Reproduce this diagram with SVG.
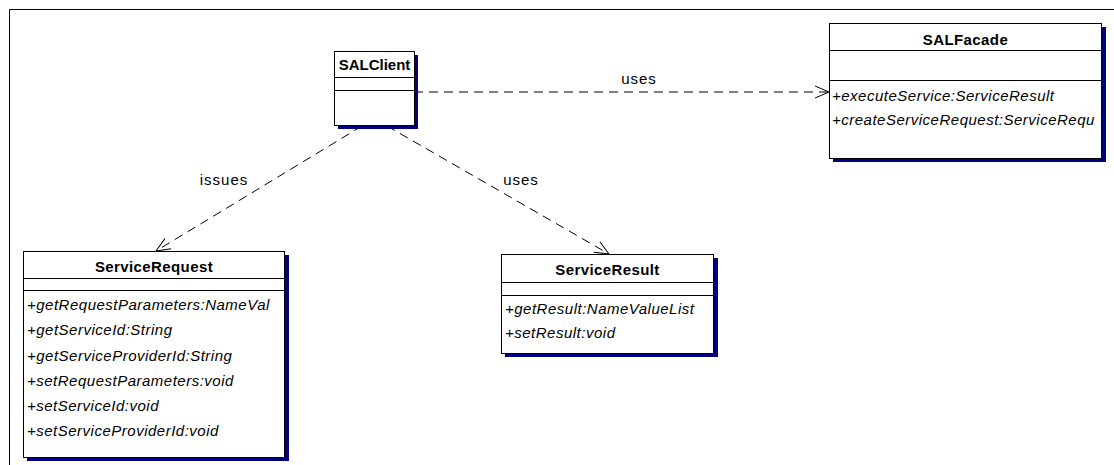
<svg xmlns="http://www.w3.org/2000/svg" width="1114" height="465" viewBox="0 0 1114 465">
<style>
.box{fill:#fff;stroke:#000;stroke-width:1}
.sh{fill:#000080}
.div{stroke:#000;stroke-width:1}
.title{font-family:"Liberation Sans",Arial,sans-serif;font-size:15px;font-weight:bold;text-anchor:middle;letter-spacing:0.4px}
.m{font-family:"Liberation Sans",Arial,sans-serif;font-size:15px;font-style:italic;letter-spacing:0.5px}
.lbl{font-family:"Liberation Sans",Arial,sans-serif;font-size:15px;text-anchor:middle;letter-spacing:1px}
.dep{fill:none;stroke:#000;stroke-width:1;stroke-dasharray:9,6}
.ah{fill:none;stroke:#000;stroke-width:1}
</style>
<defs>
<marker id="open" markerWidth="16" markerHeight="14" refX="15" refY="7" orient="auto" markerUnits="userSpaceOnUse">
<path d="M1,1 L15,7 L1,13" class="ah"/>
</marker>
</defs>
<rect width="1114" height="465" fill="#fff"/>
<path d="M9.5,465 V9.5 H1114" fill="none" stroke="#000" stroke-width="1"/>

<g id="connectors">
<line class="dep" x1="414" y1="92" x2="829" y2="92" marker-end="url(#open)"/>
<text class="lbl" x="639" y="84">uses</text>
<line class="dep" x1="362" y1="126" x2="156" y2="251" marker-end="url(#open)"/>
<text class="lbl" x="224" y="185">issues</text>
<line class="dep" x1="387" y1="126" x2="609" y2="254" marker-end="url(#open)"/>
<text class="lbl" x="521" y="185">uses</text>
</g>

<g id="SALClient">
<rect class="sh" x="338" y="55" width="80" height="74"/>
<rect class="box" x="334.5" y="51.5" width="80" height="74"/>
<text class="title" x="374.5" y="70" style="letter-spacing:0">SALClient</text>
<line class="div" x1="334.5" y1="77.5" x2="414.5" y2="77.5"/>
<line class="div" x1="334.5" y1="90.5" x2="414.5" y2="90.5"/>
</g>

<g id="SALFacade">
<rect class="sh" x="833" y="27" width="273" height="135"/>
<rect class="box" x="829.5" y="23.5" width="272" height="135"/>
<text class="title" x="965.5" y="45">SALFacade</text>
<line class="div" x1="829.5" y1="50.5" x2="1101.5" y2="50.5"/>
<line class="div" x1="829.5" y1="80.5" x2="1101.5" y2="80.5"/>
<text class="m" x="832" y="101">+executeService:ServiceResult</text>
<text class="m" x="832" y="125">+createServiceRequest:ServiceRequ</text>
</g>

<g id="ServiceRequest">
<rect class="sh" x="27" y="255" width="262" height="206"/>
<rect class="box" x="23.5" y="251.5" width="261" height="206"/>
<text class="title" x="154" y="272">ServiceRequest</text>
<line class="div" x1="23.5" y1="278.5" x2="284.5" y2="278.5"/>
<line class="div" x1="23.5" y1="290.5" x2="284.5" y2="290.5"/>
<text class="m" x="27" y="310">+getRequestParameters:NameVal</text>
<text class="m" x="27" y="335">+getServiceId:String</text>
<text class="m" x="27" y="361">+getServiceProviderId:String</text>
<text class="m" x="27" y="386">+setRequestParameters:void</text>
<text class="m" x="27" y="411">+setServiceId:void</text>
<text class="m" x="27" y="436">+setServiceProviderId:void</text>
</g>

<g id="ServiceResult">
<rect class="sh" x="505" y="258" width="213" height="99"/>
<rect class="box" x="501.5" y="254.5" width="212" height="99"/>
<text class="title" x="607.5" y="275">ServiceResult</text>
<line class="div" x1="501.5" y1="282.5" x2="713.5" y2="282.5"/>
<line class="div" x1="501.5" y1="295.5" x2="713.5" y2="295.5"/>
<text class="m" x="505" y="314">+getResult:NameValueList</text>
<text class="m" x="505" y="338">+setResult:void</text>
</g>
</svg>
